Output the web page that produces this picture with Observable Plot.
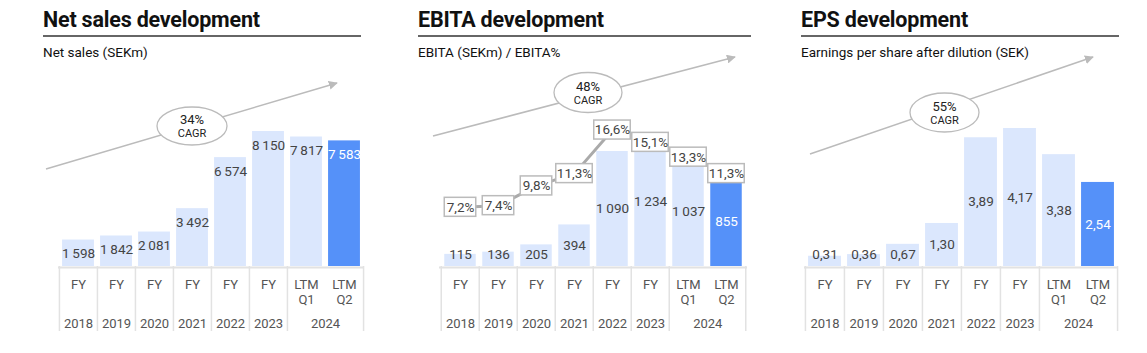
<!DOCTYPE html>
<html><head><meta charset="utf-8">
<script src="https://cdn.jsdelivr.net/npm/d3@7"></script>
<script src="https://cdn.jsdelivr.net/npm/@observablehq/plot@0.6"></script>
<style>
body{margin:0;background:#fff;font-family:Roboto,"Liberation Sans",sans-serif;}
#root{position:relative;width:1147px;height:353px;overflow:hidden;background:#fff;}
#root svg{position:absolute;}
</style></head>
<body><div id="root"></div>
<script>
// ---- data ----
const categories = ["2018","2019","2020","2021","2022","2023","LTM Q1","LTM Q2"];
const periodTop = ["FY","FY","FY","FY","FY","FY","LTM","LTM"];
const periodBottom = ["","","","","","","Q1","Q2"];
const years = ["2018","2019","2020","2021","2022","2023","2024","2024"];
const netSales = [1598,1842,2081,3492,6574,8150,7817,7583];
const ebita = [115,136,205,394,1090,1234,1037,855];
const ebitaPct = [7.2,7.4,9.8,11.3,16.6,15.1,13.3,11.3];
const eps = [0.31,0.36,0.67,1.30,3.89,4.17,3.38,2.54];
const titles = ["Net sales development","EBITA development","EPS development"];
const subtitles = ["Net sales (SEKm)","EBITA (SEKm) / EBITA%","Earnings per share after dilution (SEK)"];
const cagr = ["34%","48%","55%"];

const LIGHT = "#dbe7fd", BLUE = "#5591f9", GRID = "#e2e2e2", TXT = "#444";
const FONT = "Roboto, 'Liberation Sans', sans-serif";
const root = document.getElementById("root");
const SVG_TOP = 60, SVG_H = 280, BASE = 206;

const thin = n => d3.format(",")(n).replace(/,/g, "\u2009");
const dec2 = n => n.toFixed(2).replace(".", ",");
const pctF = n => n.toFixed(1).replace(".", ",") + "%";

function panel(cfg) {
  const ppu = cfg.ppu;
  const u = px => px / ppu;
  const inner = cfg.width - cfg.mL - cfg.mR;
  const bw = inner / categories.length;
  const barInset = (bw - cfg.barW) / 2;
  const rows = categories.map((c, i) => ({cat: c, v: cfg.values[i], top: periodTop[i], bot: periodBottom[i], hi: i === categories.length - 1}));
  const groups = [];
  years.forEach((y, i) => {
    const g = groups[groups.length - 1];
    if (g && g.year === y) g.n++; else groups.push({year: y, cat: categories[i], n: 1});
  });
  const ns = [...new Set(groups.map(g => g.n))];
  const edges = categories.filter((c, i) => i === 0 || years[i] !== years[i - 1]);
  const labelY = cfg.labelMode === "top" ? (d => d.v) : (d => Math.max(d.v / 2, u(12)));
  const marks = [
    Plot.ruleY([0], {stroke: GRID, strokeWidth: 2, dy: 1}),
    Plot.ruleX(edges, {x: d => d, y1: 0, y2: -u(65), stroke: GRID, strokeWidth: 1.5, dx: -bw / 2}),
    Plot.ruleX([categories[categories.length - 1]], {x: d => d, y1: 0, y2: -u(65), stroke: GRID, strokeWidth: 1.5, dx: bw / 2}),
    Plot.barY(rows, {x: "cat", y: "v", fill: d => d.hi ? BLUE : LIGHT, insetLeft: barInset, insetRight: barInset}),
    Plot.text(rows, {x: "cat", y: labelY, text: d => cfg.fmt(d.v), fill: d => d.hi ? "#fff" : TXT, fontSize: 13.5, dy: cfg.labelMode === "top" ? 14 : 0}),
    Plot.text(rows, {x: "cat", y: 0, text: "top", dy: 18, fill: "#555", fontSize: 13}),
    Plot.text(rows, {x: "cat", y: 0, text: "bot", dy: 33, fill: "#555", fontSize: 13}),
    ...ns.map(n => Plot.text(groups.filter(g => g.n === n), {x: "cat", y: 0, text: "year", dy: 57, dx: (n - 1) * bw / 2, fill: "#555", fontSize: 13}))
  ];
  if (cfg.pct) {
    const pu = cfg.pctPx;
    const pr = categories.map((c, i) => ({cat: c, p: cfg.pct[i], y: u(cfg.pct[i] * pu), s: pctF(cfg.pct[i])}));
    marks.push(Plot.line(pr, {x: "cat", y: "y", stroke: "#aaa", strokeWidth: 3}));
    for (const len of [4, 5]) {
      const w = len === 4 ? 32 : 37;
      marks.push(Plot.barY(pr.filter(d => d.s.length === len), {x: "cat", y1: d => d.y - u(9.5), y2: d => d.y + u(9.5), fill: "#fff", stroke: "#bbb", strokeWidth: 1.5, insetLeft: (bw - w) / 2, insetRight: (bw - w) / 2}));
    }
    marks.push(Plot.text(pr, {x: "cat", y: "y", text: "s", fill: TXT, fontSize: 13.5}));
  }
  const svg = Plot.plot({
    width: cfg.width, height: SVG_H,
    marginLeft: cfg.mL, marginRight: cfg.mR, marginTop: 0, marginBottom: 0,
    x: {domain: categories, padding: 0, axis: null},
    y: {domain: [-u(SVG_H - BASE), u(BASE)], axis: null},
    style: {fontFamily: FONT, background: "transparent", overflow: "visible"},
    marks
  });
  svg.style.left = cfg.left + "px";
  svg.style.top = SVG_TOP + "px";
  root.appendChild(svg);
}

panel({left: 0, width: 380, mL: 58, mR: 17, barW: 32, values: netSales, ppu: 135 / 8150, fmt: thin, labelMode: "top"});
panel({left: 400, width: 360, mL: 39, mR: 13, barW: 32, values: ebita, ppu: 115 / 1090, fmt: thin, labelMode: "mid", pct: ebitaPct, pctPx: 8.22});
panel({left: 780, width: 367, mL: 24, mR: 30, barW: 33, values: eps, ppu: 138 / 4.17, fmt: dec2, labelMode: "mid"});

// ---- titles, rules, CAGR arrows (annotation layer) ----
const layout = [
  {x0: 43, x1: 361, ax: [46, 169, 337, 83], e: [192, 126, 35, 19]},
  {x0: 418, x1: 751, ax: [433, 136, 735, 57], e: [588, 92.5, 34, 20]},
  {x0: 801, x1: 1119, ax: [810, 154, 1093, 57], e: [944.5, 112.5, 34.5, 19.5]}
];
const ov = d3.select(root).append("svg").attr("width", 1147).attr("height", 353)
  .style("left", "0px").style("top", "0px").style("font-family", FONT);
ov.append("defs").append("marker").attr("id", "ah").attr("viewBox", "0 0 10 10")
  .attr("refX", 9).attr("refY", 5).attr("markerWidth", 9).attr("markerHeight", 9)
  .attr("markerUnits", "userSpaceOnUse").attr("orient", "auto")
  .append("path").attr("d", "M0,0L10,5L0,10Z").attr("fill", "#bbb");
layout.forEach((L, i) => {
  ov.append("text").attr("x", L.x0).attr("y", 27).text(titles[i])
    .attr("font-size", 21.5).attr("font-weight", 700).attr("fill", "#111").attr("letter-spacing", "-0.2px");
  ov.append("line").attr("x1", L.x0).attr("x2", L.x1).attr("y1", 36).attr("y2", 36).attr("stroke", "#333").attr("stroke-width", 1.3);
  ov.append("text").attr("x", L.x0).attr("y", 57).text(subtitles[i]).attr("font-size", 13.5).attr("fill", "#111");
  const [x1, y1, x2, y2] = L.ax;
  ov.append("line").attr("x1", x1).attr("y1", y1).attr("x2", x2).attr("y2", y2)
    .attr("stroke", "#bbb").attr("stroke-width", 1.5).attr("marker-end", "url(#ah)");
  const [cx, cy, rx, ry] = L.e;
  ov.append("ellipse").attr("cx", cx).attr("cy", cy).attr("rx", rx).attr("ry", ry)
    .attr("fill", "#fff").attr("stroke", "#bbb").attr("stroke-width", 1.3);
  ov.append("text").attr("x", cx).attr("y", cy - 2).attr("text-anchor", "middle").attr("font-size", 13).attr("fill", "#222").text(cagr[i]);
  ov.append("text").attr("x", cx).attr("y", cy + 11).attr("text-anchor", "middle").attr("font-size", 11).attr("fill", "#222").text("CAGR");
});
</script></body></html>
